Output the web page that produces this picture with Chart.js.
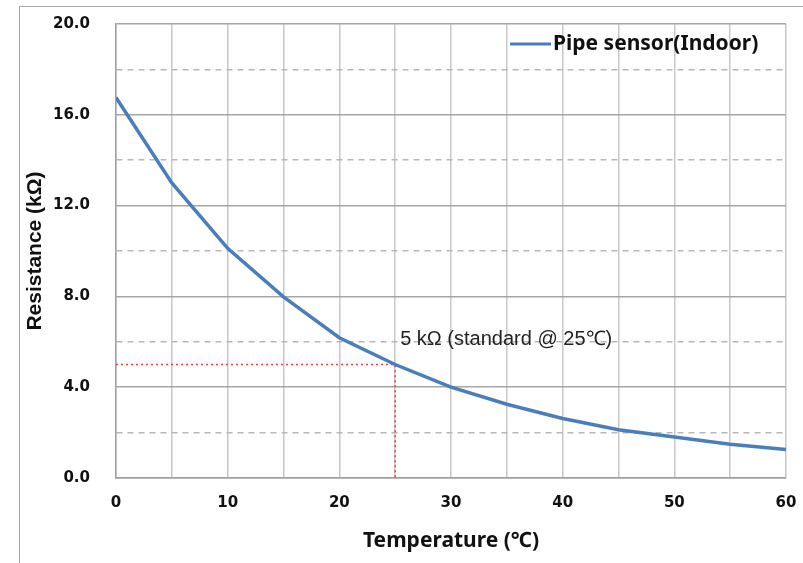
<!DOCTYPE html>
<html>
<head>
<meta charset="utf-8">
<script src="https://cdn.jsdelivr.net/npm/chart.js@4/dist/chart.umd.min.js"></script>
<style>
  html, body { margin: 0; padding: 0; background: #fff; }
  #wrap { position: relative; width: 803px; height: 563px; }
  #frame { position: absolute; left: 19px; top: 6px; width: 800px; height: 600px;
           border-left: 1px solid #a8a8a8; border-top: 1px solid #a8a8a8; pointer-events: none; }
  canvas { position: absolute; left: 0; top: 0; }
</style>
</head>
<body>
<div id="wrap">
  <canvas id="c" width="803" height="563"></canvas>
  <div id="frame"></div>
</div>
<script>
// ---- data ----
const temperatures = [0, 5, 10, 15, 20, 25, 30, 35, 40, 45, 50, 55, 60];
const resistances  = [16.76, 13.0, 10.12, 7.98, 6.18, 5.0, 4.0, 3.25, 2.62, 2.13, 1.81, 1.49, 1.26];
const seriesName = 'Pipe sensor(Indoor)';
const refTemperature = 25;
const refResistance = 5;
const refLabel = '5 k\u03A9 (standard @ 25\u2103)';
const xTitle = 'Temperature (\u2103)';
const yTitle = 'Resistance (k\u03A9)';
const xLabelTicks = [0, 10, 20, 30, 40, 50, 60];
const yLabelTicks = [0, 4, 8, 12, 16, 20];

const curve = temperatures.map((t, i) => ({ x: t, y: resistances[i] }));
const refPath = [
  { x: 0, y: refResistance },
  { x: refTemperature, y: refResistance },
  { x: refTemperature, y: 0 }
];

const annotationPlugin = {
  id: 'annot',
  afterDatasetsDraw(chart) {
    const { ctx, scales: { x, y } } = chart;
    ctx.save();
    ctx.font = '20px "Liberation Sans", Arial, sans-serif';
    ctx.fillStyle = '#222';
    ctx.textBaseline = 'alphabetic';
    ctx.textAlign = 'left';
    ctx.fillText(refLabel, x.getPixelForValue(refTemperature) + 5, y.getPixelForValue(refResistance) - 20);
    // legend
    const ds = chart.data.datasets[0];
    const ly = 44;
    const lx = 510;
    ctx.strokeStyle = ds.borderColor;
    ctx.lineWidth = 3;
    ctx.beginPath();
    ctx.moveTo(lx, ly);
    ctx.lineTo(lx + 41, ly);
    ctx.stroke();
    ctx.font = 'bold 21px "Noto Sans", sans-serif';
    ctx.fillStyle = '#111';
    ctx.textBaseline = 'middle';
    ctx.fillText(ds.label, lx + 43, ly);
    ctx.restore();
  }
};

new Chart(document.getElementById('c'), {
  type: 'scatter',
  data: {
    datasets: [
      {
        label: seriesName,
        data: curve,
        showLine: true,
        borderColor: '#4a7ebb',
        backgroundColor: '#4a7ebb',
        borderWidth: 3.5,
        pointRadius: 0,
        tension: 0,
        order: 1
      },
      {
        label: 'ref',
        data: refPath,
        showLine: true,
        borderColor: '#ff3b3b',
        borderWidth: 1.6,
        borderDash: [2, 3],
        pointRadius: 0,
        tension: 0,
        order: 2
      }
    ]
  },
  options: {
    responsive: false,
    animation: false,
    events: [],
    layout: { padding: { top: 24, right: 17, left: 0, bottom: 0 } },
    plugins: { legend: { display: false }, tooltip: { enabled: false } },
    scales: {
      x: {
        type: 'linear',
        min: 0, max: 60,
        afterFit(s) { s.height = 85; s.paddingLeft = 0; s.paddingRight = 0; },
        afterBuildTicks(s) { s.ticks = []; for (let v = 0; v <= 60; v += 5) s.ticks.push({ value: v }); },
        ticks: {
          padding: 16,
          color: '#111',
          font: { family: '"DejaVu Sans", sans-serif', weight: 'bold', size: 15 },
          callback: v => xLabelTicks.includes(v) ? String(v) : '',
          maxRotation: 0, autoSkip: false
        },
        grid: { color: '#c8c8c8', lineWidth: 1.5, drawTicks: false },
        border: { color: '#a0a0a0', width: 1.5 },
        title: {
          display: true, text: xTitle, color: '#111',
          font: { family: '"Noto Sans", sans-serif', weight: 'bold', size: 21 },
          padding: { top: 0, bottom: 9 }
        }
      },
      y: {
        type: 'linear',
        min: 0, max: 20,
        afterFit(s) { s.width = 116; s.paddingTop = 0; s.paddingBottom = 0; },
        afterBuildTicks(s) { s.ticks = []; for (let v = 0; v <= 20; v += 2) s.ticks.push({ value: v }); },
        ticks: {
          padding: 26,
          color: '#111',
          font: { family: '"DejaVu Sans", sans-serif', weight: 'bold', size: 15 },
          callback: v => yLabelTicks.includes(v) ? v.toFixed(1) : ''
        },
        grid: {
          drawTicks: false,
          lineWidth: 1.5,
          color: c => (c.tick && yLabelTicks.includes(c.tick.value)) ? '#a6a6a6' : '#b8b8b8'
        },
        border: {
          color: '#a0a0a0', width: 1.5,
          dash: c => (c.tick && !yLabelTicks.includes(c.tick.value)) ? [6, 5] : []
        },
        title: {
          display: true, text: yTitle, color: '#111',
          font: { family: '"Liberation Sans", Arial, sans-serif', weight: 'bold', size: 21 },
          padding: { top: 23, bottom: 0 }
        }
      }
    }
  },
  plugins: [annotationPlugin]
});
</script>
</body>
</html>
